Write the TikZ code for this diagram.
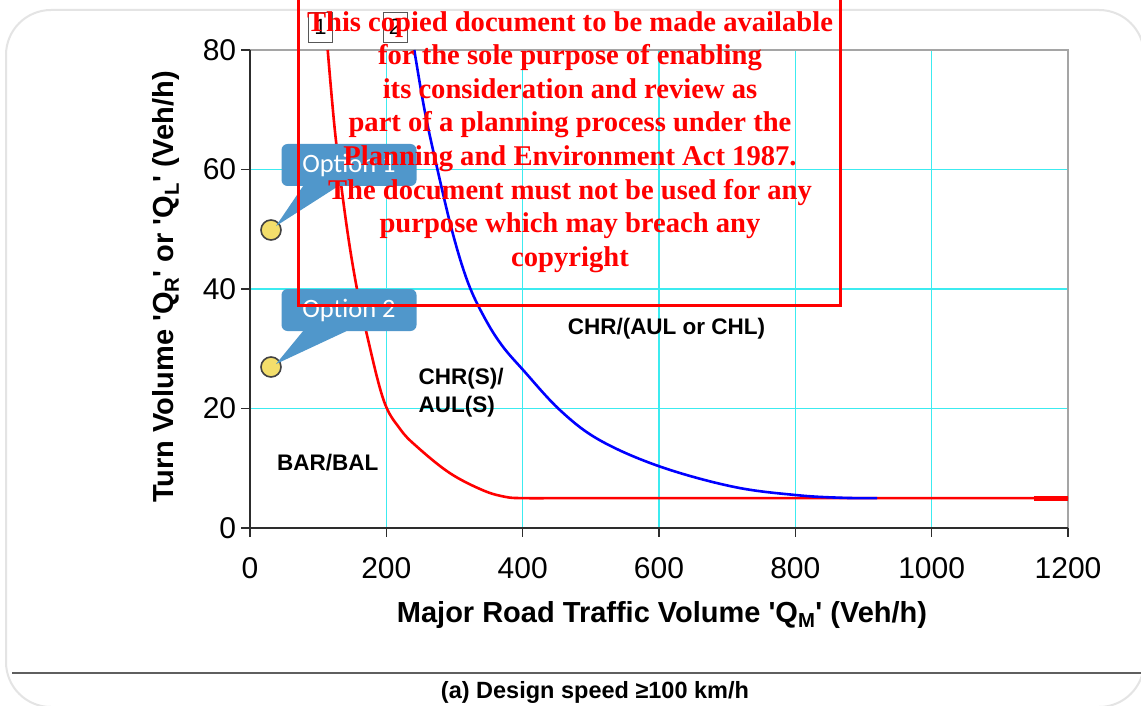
\documentclass[tikz,border=0pt]{standalone}
\usepackage{fontspec}
\setmainfont{Liberation Sans}
\newfontfamily\wmfont{Liberation Serif}
\newfontfamily\optfont{Carlito}
\usetikzlibrary{calc}
\definecolor{gridcyan}{RGB}{60,235,240}
\definecolor{plotred}{RGB}{255,0,0}
\definecolor{plotblue}{RGB}{0,0,255}
\definecolor{calloutblue}{RGB}{80,151,203}
\definecolor{dotfill}{RGB}{243,222,107}
\definecolor{framegray}{RGB}{228,228,228}
\definecolor{sepgray}{RGB}{95,95,95}
\definecolor{bordergray}{RGB}{165,165,165}
\definecolor{axisgray}{RGB}{45,45,45}
\tikzset{
  gridline/.style={gridcyan, line width=1.4pt},
  borderline/.style={bordergray, line width=1.4pt},
  axisline/.style={axisgray, line width=1.4pt},
  ticklabel/.style={font=\fontsize{30}{32}\selectfont, text=black, inner sep=0pt},
  regionlabel/.style={font=\fontsize{22.5}{28}\selectfont\bfseries, text=black, inner sep=0pt},
  titlelabel/.style={font=\fontsize{29}{32}\selectfont\bfseries, text=black, inner sep=0pt},
  optbox/.style={fill=calloutblue, rounded corners=6pt, text=white, font=\optfont\fontsize{26.5}{30}\selectfont, minimum width=135pt, minimum height=42pt, inner sep=0pt},
  optdot/.style={circle, fill=dotfill, draw=axisgray!90, line width=1.6pt, minimum size=20pt, inner sep=0pt},
  numbox/.style={draw=axisgray!80, line width=0.8pt, minimum width=24pt, minimum height=30pt, inner sep=0pt, font=\fontsize{22}{24}\selectfont, text=black},
  wmtext/.style={text=plotred, font=\wmfont\fontsize{28.6}{33.6}\selectfont\bfseries, align=center, inner sep=0pt}
}
\begin{document}
\begin{tikzpicture}[x=1pt,y=-1pt]
\useasboundingbox (0,0) rectangle (1141,706);
\fill[white] (0,0) rectangle (1141,706);
% outer frame
\draw[framegray, line width=2pt, rounded corners=45pt] (6,10) rectangle (1144,707);
\draw[sepgray, line width=2pt] (12,673) -- (1141,673);

% plot in data coordinates
\begin{scope}[shift={(250,528)}, x=0.68167pt, y=5.975pt]
  \foreach \gx in {200,400,...,1000} \draw[gridline] (\gx,0) -- (\gx,80);
  \foreach \gy in {20,40,60} \draw[gridline] (0,\gy) -- (1200,\gy);
  \draw[borderline] (0,80) -- (1200,80) -- (1200,0);
  \draw[axisline] (0,80) -- (0,0) -- (1200,0);
  \foreach \gx in {0,200,...,1200} {
    \draw[axisline] (\gx,0) -- (\gx,-1.5);
    \node[ticklabel] (xl\gx) at (\gx,-6.8) {\gx};
  }
  \foreach \gy in {0,20,...,80} {
    \draw[axisline] (0,\gy) -- (-13,\gy);
    \node[ticklabel, anchor=east] (yl\gy) at (-20,\gy) {\gy};
  }
  % red curve
  \draw[plotred, line width=2.6pt, line join=round] plot[smooth, tension=0.6] coordinates {
    (114,80) (125,66) (140,52) (155,41.2) (171,32.6) (196,21.4) (220,16.6) (245,13.6) (293,9.2) (342,6.3) (375,5.2) (400,5) (450,5)} -- (1200,5);
  \draw[plotred, line width=5pt] (1150,5) -- (1200,5);
  % blue curve
  \draw[plotblue, line width=2.6pt, line join=round] plot[smooth, tension=0.6] coordinates {
    (241,80) (256,70) (273,61) (297,49.5) (320,41) (345,35) (370,30.5) (401,26.4) (455,19.7) (513,14.7) (601,10.3) (709,6.9) (802,5.5) (870,5.05) (920,5)};
  % region labels
  \node[regionlabel] (bar) at (114,10.9) {BAR/BAL};
  \node[regionlabel, anchor=west, align=left] (chrs) at (247,22.6) {CHR(S)/\\AUL(S)};
  \node[regionlabel] (chr) at (611,33.3) {CHR/(AUL or CHL)};
\end{scope}

% axis titles
\node[titlelabel] (xtitle) at (662,615) {Major Road Traffic Volume \textquotesingle Q\textsubscript{M}\textquotesingle\ (Veh/h)};
\node[titlelabel, rotate=90] (ytitle) at (166,287) {Turn Volume \textquotesingle Q\textsubscript{R}\textquotesingle\ or \textquotesingle Q\textsubscript{L}\textquotesingle\ (Veh/h)};
\node[font=\fontsize{23.5}{26}\selectfont\bfseries, inner sep=0pt] (caption) at (595,692) {(a) Design speed ≥100 km/h};

% options
\node[optdot] (d1) at (271,230) {};
\node[optdot] (d2) at (271,367) {};
\node[optbox] (o1) at (349,165) {Option 1};
\node[optbox] (o2) at (349,310) {Option 2};
\fill[calloutblue] ($(o1.south west)!0.16!(o1.south east)$) -- ($(o1.south west)!0.42!(o1.south east)$) -- ($(d1.center)+(5,-4)$) -- cycle;
\fill[calloutblue] ($(o2.south west)!0.16!(o2.south east)$) -- ($(o2.south west)!0.48!(o2.south east)$) -- ($(d2.center)+(5,-3)$) -- cycle;

% small number boxes
\node[numbox] (n1) at (320.5,27) {1};
\node[numbox] (n2) at (395,27) {2};

% watermark
\draw[plotred, line width=3pt] (298,-5) rectangle (840,305);
\node[wmtext, anchor=north] (wm) at (570,11) {This copied document to be made available\\for the sole purpose of enabling\\its consideration and review as\\part of a planning process under the\\Planning and Environment Act 1987.\\The document must not be used for any\\purpose which may breach any\\copyright};
\end{tikzpicture}
\end{document}
